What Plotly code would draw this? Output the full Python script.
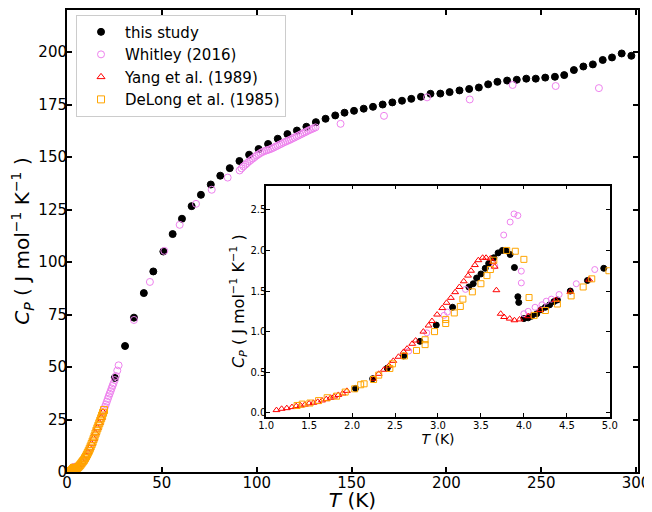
import plotly.graph_objects as go

# ---------------- data ----------------
# this study
study_T = [2.04, 2.24, 2.41, 2.60, 2.79, 2.98, 3.17, 3.36, 3.41, 3.45, 3.50, 3.55, 3.59, 3.65,
           3.70, 3.75, 3.79, 3.84, 3.89, 3.93, 3.94, 4.00, 4.05, 4.09, 4.15, 4.20, 4.25, 4.30,
           4.35, 4.39, 4.54, 4.74, 4.93,
           25.2, 30.6, 35.3, 40.5, 45.5, 50.8, 55.7, 60.6, 65.7, 70.6, 75.8, 80.8, 85.8, 90.9,
           96.0, 101.0, 106.0, 111.1, 116.2, 121.2, 126.2, 131.2, 136.3, 141.4, 146.3, 151.3,
           156.4, 161.3, 166.4, 171.5, 176.6, 181.5, 186.6, 191.6, 196.8, 201.7, 206.9, 212.0,
           217.1, 222.0, 226.9, 232.0, 237.1, 242.1, 247.1, 252.1, 257.2, 262.1, 267.2, 272.2,
           277.2, 282.4, 287.3, 292.4, 297.5]
study_Cp = [0.30, 0.42, 0.55, 0.70, 0.88, 1.08, 1.30, 1.55, 1.59, 1.66, 1.71, 1.78, 1.84, 1.91,
            1.97, 2.00, 2.00, 1.95, 1.79, 1.43, 1.36, 1.16, 1.17, 1.19, 1.22, 1.27, 1.30, 1.33,
            1.37, 1.39, 1.50, 1.63, 1.78,
            44.8, 60.0, 73.5, 85.2, 95.5, 105.0, 113.3, 120.6, 126.6, 132.0, 136.9, 141.1, 144.7,
            148.1, 151.1, 153.8, 156.2, 158.7, 160.9, 162.6, 164.4, 166.6, 168.2, 169.8, 171.1,
            172.0, 173.0, 173.9, 175.0, 176.0, 176.8, 177.7, 178.7, 180.1, 180.2, 180.9, 181.7,
            182.4, 183.1, 184.6, 185.8, 186.4, 186.8, 187.3, 187.3, 187.8, 188.2, 189.0, 191.4,
            193.1, 194.1, 196.2, 197.4, 199.3, 198.2]

# Whitley (2016)
whitley_T = [2.66, 2.87, 3.07, 3.11, 3.32, 3.66, 3.765, 3.84, 3.885, 3.93, 3.97, 3.97, 4.00,
             4.05, 4.13, 4.21, 4.26, 4.32, 4.41, 4.61, 4.825,
             8.0, 10.0, 12.0, 14.0, 16.0, 18.0,
             19.5, 20.0, 20.5, 21.0, 21.5, 22.0, 22.5, 23.0, 23.5, 24.0, 24.5, 25.2, 25.8, 26.5,
             27.2, 35.3, 43.7, 51.3, 59.4, 68.0, 76.3, 84.7,
             91, 92, 93, 94, 95, 96, 97, 98, 99, 100, 101, 102, 103, 104, 105, 106, 107, 108,
             109, 110, 111, 112, 113, 114, 115, 116, 117, 118, 119, 120, 121, 122, 123, 124,
             125, 126, 127, 128, 129, 130, 131,
             144.2, 167.1, 189.8, 212.3, 234.9, 257.6, 280.4]
whitley_Cp = [0.76, 0.985, 1.20, 1.24, 1.52, 1.81, 2.19, 2.35, 2.45, 2.43, 1.745, 1.60, 1.22,
              1.25, 1.30, 1.33, 1.375, 1.40, 1.457, 1.59, 1.765,
              4.6, 7.4, 11.1, 15.7, 20.8, 25.6,
              29.8, 31.0, 32.2, 33.5, 34.8, 36.1, 37.3, 38.5, 39.8, 41.0, 42.2, 43.8, 45.7, 48.3,
              50.8, 72.4, 90.5, 105.3, 117.7, 127.7, 134.4, 140.2,
              143.6, 144.6, 145.5, 146.3, 147.1, 147.9, 148.6, 149.3, 150.0, 150.7, 151.3, 151.9,
              152.4, 152.8, 153.1, 153.4, 153.7, 154.1, 154.5, 155.0, 155.4, 155.9, 156.3, 156.8,
              157.2, 157.6, 158.0, 158.4, 158.9, 159.3, 159.8, 160.2, 160.7, 161.1, 161.6, 162.0,
              162.5, 162.9, 163.3, 163.7, 164.1,
              165.8, 169.6, 178.4, 177.4, 184.3, 183.8, 182.8]

# Yang et al. (1989)
yang_T = [1.12, 1.18, 1.24, 1.30, 1.35, 1.40, 1.45, 1.50, 1.55, 1.60, 1.65, 1.70, 1.75, 1.79,
          1.84, 1.89, 1.94, 2.25, 2.31, 2.37, 2.43, 2.48, 2.54, 2.60, 2.64, 2.70, 2.74, 2.83,
          2.89, 2.93, 2.99, 3.05, 3.10, 3.15, 3.20, 3.25, 3.30, 3.35, 3.385, 3.43, 3.47, 3.52,
          3.56, 3.61, 3.64, 3.66, 3.68, 3.73, 3.77, 3.835, 3.89, 3.95, 4.05, 4.19, 4.37, 4.54,
          4.76,
          6, 7, 8, 9, 10, 11, 12, 13, 14, 15, 16, 17, 18, 19]
yang_Cp = [0.033, 0.049, 0.057, 0.070, 0.082, 0.090, 0.100, 0.115, 0.123, 0.135, 0.152, 0.168,
           0.185, 0.200, 0.220, 0.238, 0.270, 0.42, 0.48, 0.53, 0.58, 0.64, 0.69, 0.75, 0.79,
           0.85, 0.89, 1.00, 1.075, 1.13, 1.21, 1.29, 1.355, 1.416, 1.486, 1.55, 1.62, 1.69,
           1.75, 1.82, 1.88, 1.91, 1.91, 1.90, 1.86, 1.80, 1.51, 1.22, 1.18, 1.16, 1.14, 1.15,
           1.19, 1.265, 1.39, 1.49, 1.64,
           2.6, 3.6, 4.8, 6.0, 7.6, 9.4, 11.3, 13.5, 15.9, 18.5, 21.0, 23.4, 25.8, 28.5]

# DeLong et al. (1985)
delong_T = [1.36, 1.42, 1.51, 1.61, 1.71, 1.82, 1.92, 2.03, 2.10, 2.14, 2.25, 2.31, 2.44, 2.47,
            2.61, 2.75, 2.85, 2.85, 2.96, 3.09, 3.09, 3.19, 3.26, 3.29, 3.40, 3.50, 3.57, 3.61,
            3.65, 3.80, 3.90, 4.00, 4.06, 4.12, 4.25, 4.39, 4.55, 4.69, 4.79, 4.99,
            5.5, 6.0, 6.5, 7.0, 7.5, 8.0, 8.5, 9.0, 9.5, 10.0, 10.5, 11.0, 11.5, 12.0, 12.5,
            13.0, 13.5, 14.0, 14.5, 15.0, 15.5, 16.0, 16.5, 17.0, 17.5, 18.0, 18.5, 19.0, 19.5]
delong_Cp = [0.09, 0.107, 0.12, 0.15, 0.185, 0.205, 0.255, 0.295, 0.345, 0.357, 0.41, 0.464,
             0.546, 0.603, 0.70, 0.768, 0.84, 0.90, 1.00, 1.10, 1.15, 1.23, 1.31, 1.40, 1.49,
             1.59, 1.69, 1.765, 1.88, 2.00, 1.99, 1.89, 1.42, 1.20, 1.26, 1.34, 1.44, 1.55, 1.65,
             1.75,
             2.0, 2.4, 2.9, 3.4, 4.0, 4.6, 5.2, 5.8, 6.6, 7.4, 8.3, 9.2, 10.1, 11.1, 12.2, 13.3,
             14.5, 15.7, 17.0, 18.3, 19.6, 20.8, 22.0, 23.2, 24.4, 25.6, 26.9, 28.2, 29.5]

main_xticks = [0, 50, 100, 150, 200, 250, 300]
main_yticks = [0, 25, 50, 75, 100, 125, 150, 175, 200]
inset_xticks = [1.0, 1.5, 2.0, 2.5, 3.0, 3.5, 4.0, 4.5, 5.0]
inset_yticks = [0.0, 0.5, 1.0, 1.5, 2.0, 2.5]

# ---------------- figure ----------------
# The page body has an 8 px margin, so the figure is drawn 8 px smaller and offset.
FONT = "DejaVu Sans"
series = [
    ("this study", study_T, study_Cp, dict(symbol="circle", color="black")),
    ("Whitley (2016)", whitley_T, whitley_Cp, dict(symbol="circle-open", color="violet")),
    ("Yang et al. (1989)", yang_T, yang_Cp, dict(symbol="triangle-up-open", color="red")),
    ("DeLong et al. (1985)", delong_T, delong_Cp, dict(symbol="square-open", color="orange")),
]

fig = go.Figure()
for name, T, C, st in series:
    fig.add_trace(go.Scatter(
        x=T, y=C, mode="markers", name=name, xaxis="x", yaxis="y",
        marker=dict(symbol=st["symbol"], color=st["color"], size=7,
                    line=dict(color=st["color"], width=1)),
    ))
for name, T, C, st in series:
    fig.add_trace(go.Scatter(
        x=T, y=C, mode="markers", name=name, xaxis="x2", yaxis="y2", showlegend=False,
        marker=dict(symbol=st["symbol"], color=st["color"], size=6,
                    line=dict(color=st["color"], width=1)),
    ))

axis_common = dict(showline=True, linecolor="black", mirror="ticks", ticks="inside",
                   showgrid=False, zeroline=False, tickcolor="black", automargin=False)

ylabel = "<i>C</i><sub><i>P</i></sub> ( J mol<sup>−1</sup> K<sup>−1</sup> )"

fig.update_layout(
    width=644, height=504,
    margin=dict(l=59, r=14, t=2, b=40),
    paper_bgcolor="white", plot_bgcolor="white",
    font=dict(family=FONT, color="black"),
    xaxis=dict(axis_common, domain=[0, 1], range=[0, 301], tickvals=main_xticks,
               linewidth=2, ticklen=5, tickwidth=1.5, ticklabelstandoff=-4,
               tickfont=dict(size=15),
               title=dict(text="<i>T</i> (K)", font=dict(size=20), standoff=7)),
    yaxis=dict(axis_common, domain=[0, 1], range=[0, 220], tickvals=main_yticks,
               linewidth=2, ticklen=5, tickwidth=1.5, ticklabelstandoff=-5,
               tickfont=dict(size=15),
               title=dict(text=ylabel, font=dict(size=20), standoff=12)),
    xaxis2=dict(axis_common, domain=[0.3488, 0.9506], anchor="y2", range=[1.0, 5.0],
                tickvals=inset_xticks, tickformat=".1f",
                linewidth=1.5, ticklen=4, tickwidth=1, ticklabelstandoff=-2,
                tickfont=dict(size=10),
                title=dict(text="<i>T</i> (K)", font=dict(size=14), standoff=2)),
    yaxis2=dict(axis_common, domain=[0.1194, 0.6201], anchor="x2", range=[-0.05, 2.8],
                tickvals=inset_yticks, tickformat=".1f",
                linewidth=1.5, ticklen=4, tickwidth=1, ticklabelstandoff=-4,
                tickfont=dict(size=10),
                title=dict(text=ylabel, font=dict(size=16), standoff=2)),
    legend=dict(x=0.0158, y=0.99, xanchor="left", yanchor="top",
                bgcolor="white", bordercolor="#cccccc", borderwidth=1,
                font=dict(size=15), itemwidth=38),
    showlegend=True,
)

fig.write_html("out.html")
